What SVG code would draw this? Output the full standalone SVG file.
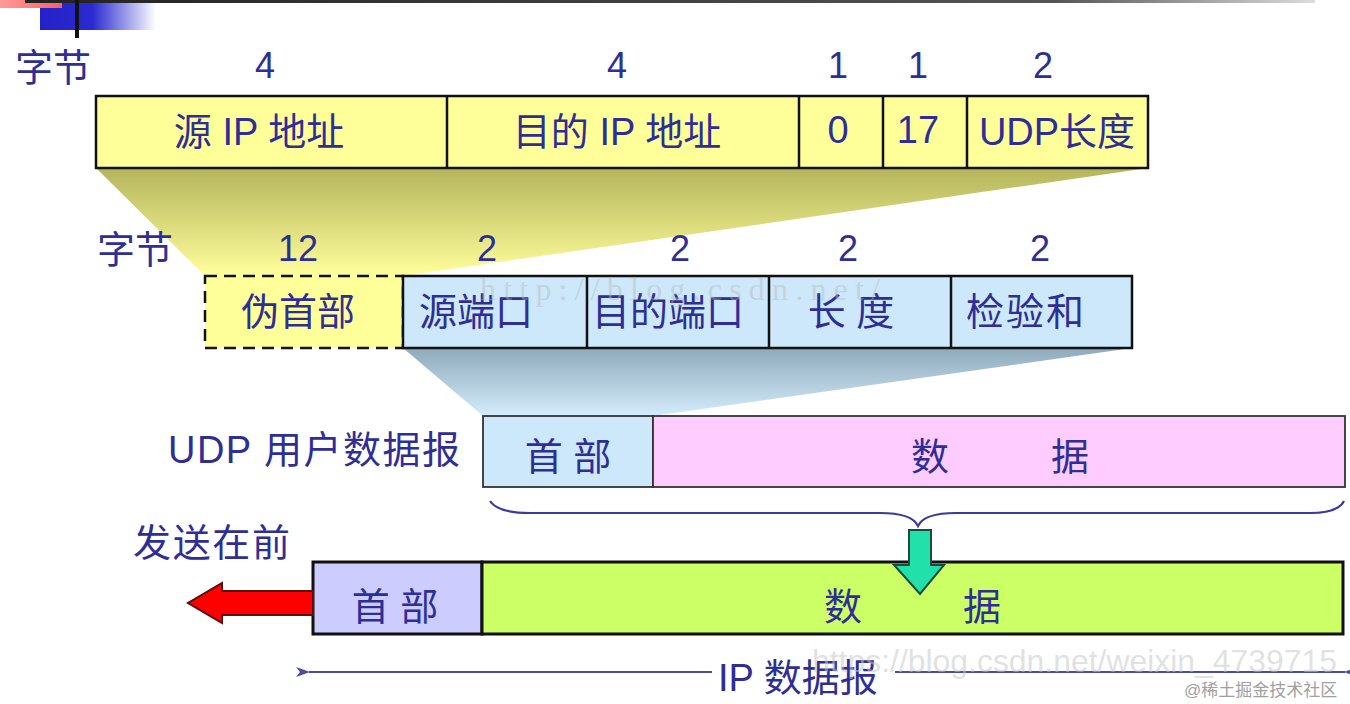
<svg xmlns="http://www.w3.org/2000/svg" width="1350" height="704" viewBox="0 0 1350 704">
<defs>
<style>
text{font-family:"Liberation Sans","Noto Sans CJK SC",sans-serif;fill:#2e2e96;}
.lbl{font-size:38px;}
.num{font-size:36px;text-anchor:middle;}
.box{font-size:38px;text-anchor:middle;}
.cell{stroke:#111;stroke-width:2.5;}
</style>
<linearGradient id="gy" x1="0" y1="0" x2="0" y2="1">
<stop offset="0" stop-color="#b4b45c"/>
<stop offset="1" stop-color="#ffff9c"/>
</linearGradient>
<linearGradient id="gb" x1="0" y1="0" x2="0" y2="1">
<stop offset="0" stop-color="#8eaabb"/>
<stop offset="1" stop-color="#d4ecfb"/>
</linearGradient>
<linearGradient id="gblue" x1="0" y1="0" x2="1" y2="0">
<stop offset="0" stop-color="#2222c8"/>
<stop offset="0.45" stop-color="#2a2ad0"/>
<stop offset="1" stop-color="#ffffff"/>
</linearGradient>
<linearGradient id="gpink" x1="0" y1="0" x2="1" y2="0">
<stop offset="0" stop-color="#ff9a9a"/>
<stop offset="1" stop-color="#ff6060"/>
</linearGradient>
<linearGradient id="gtop" x1="0" y1="0" x2="1" y2="0">
<stop offset="0" stop-color="#222"/>
<stop offset="0.8" stop-color="#555"/>
<stop offset="1" stop-color="#ddd"/>
</linearGradient>
<marker id="arrL" viewBox="0 0 14 10" refX="1" refY="5" markerWidth="14" markerHeight="10" markerUnits="userSpaceOnUse" orient="auto-start-reverse">
<path d="M14,0 L0,5 L14,10 L10,5 Z" fill="#4a4a9e"/>
</marker>
</defs>

<g id="decoration">
<rect x="40" y="0" width="116" height="30" fill="url(#gblue)"/>
<rect x="0" y="0" width="62" height="8" fill="url(#gpink)"/>
<rect x="25" y="0" width="1290" height="3" fill="url(#gtop)"/>
<rect x="75" y="0" width="4" height="38" fill="#111"/>
</g>

<g id="shading">
<polygon points="96,168 1148,168 403,276 205,276" fill="url(#gy)"/>
<polygon points="403,348 1132,348 653,416 483,416" fill="url(#gb)"/>
</g>

<g id="labels">
<text class="lbl" x="15" y="81">字节</text>
<text class="num" x="265" y="78">4</text>
<text class="num" x="617" y="78">4</text>
<text class="num" x="838" y="78">1</text>
<text class="num" x="918" y="78">1</text>
<text class="num" x="1043" y="78">2</text>
<text class="lbl" x="97" y="263">字节</text>
<text class="num" x="298" y="261">12</text>
<text class="num" x="487" y="261">2</text>
<text class="num" x="680" y="261">2</text>
<text class="num" x="848" y="261">2</text>
<text class="num" x="1040" y="261">2</text>
<text class="lbl" x="168" y="463" textLength="292" lengthAdjust="spacing">UDP 用户数据报</text>
<text class="lbl" x="133" y="556" textLength="157" lengthAdjust="spacing">发送在前</text>
</g>

<g id="ip-pseudo-header">
<rect class="cell" x="96" y="96" width="1052" height="72" fill="#ffff99"/>
<line class="cell" x1="447" y1="96" x2="447" y2="168"/>
<line class="cell" x1="799" y1="96" x2="799" y2="168"/>
<line class="cell" x1="883" y1="96" x2="883" y2="168"/>
<line class="cell" x1="967" y1="96" x2="967" y2="168"/>
<text class="box" x="259" y="145">源 IP 地址</text>
<text class="box" x="617" y="145">目的 IP 地址</text>
<text class="box" x="838" y="143">0</text>
<text class="box" x="918" y="143">17</text>
<text class="box" x="1057" y="145">UDP长度</text>
</g>

<g id="udp-header">
<rect x="205" y="276" width="198" height="72" fill="#ffff99" stroke="#111" stroke-width="2.5" stroke-dasharray="12,7"/>
<rect class="cell" x="403" y="276" width="729" height="72" fill="#cce8fa"/>
<line class="cell" x1="587" y1="276" x2="587" y2="348"/>
<line class="cell" x1="769" y1="276" x2="769" y2="348"/>
<line class="cell" x1="951" y1="276" x2="951" y2="348"/>
<text class="box" x="298" y="325">伪首部</text>
<text class="box" x="476" y="325">源端口</text>
<text class="box" x="668" y="325">目的端口</text>
<text class="box" x="851" y="325">长 度</text>
<text class="box" x="1026" y="325" letter-spacing="2">检验和</text>
</g>

<g id="udp-datagram">
<rect x="483" y="416" width="170" height="71" fill="#cce8fa" stroke="#333" stroke-width="1.8"/>
<rect x="653" y="416" width="692" height="71" fill="#ffccff" stroke="#333" stroke-width="1.8"/>
<text class="box" x="568" y="470">首 部</text>
<text class="box" x="930" y="470">数</text>
<text class="box" x="1070" y="470">据</text>
</g>

<g id="ip-datagram">
<rect x="313" y="562" width="169" height="72" fill="#ccccff" stroke="#111" stroke-width="3"/>
<rect x="482" y="562" width="861" height="72" fill="#ccff66" stroke="#111" stroke-width="3"/>
<text class="box" x="395" y="620">首 部</text>
<text class="box" x="843" y="620">数</text>
<text class="box" x="982" y="620">据</text>
</g>

<g id="connectors">
<path d="M490,501 Q498,513 530,513 L880,513 Q912,513 918,526 Q924,513 956,513 L1310,513 Q1338,513 1344,501" fill="none" stroke="#3a3a9a" stroke-width="2.2"/>
<polygon points="909,530 931,530 931,565 944,565 920,594 894,565 909,565" fill="#22e0aa" stroke="#1a4a3a" stroke-width="2"/>
<polygon points="313,591 222,591 222,583 188,603 222,623 222,615 313,615" fill="#ff0000" stroke="#5a1010" stroke-width="2"/>
<line x1="309" y1="672" x2="712" y2="672" stroke="#4a4a9e" stroke-width="2" marker-start="url(#arrL)"/>
<line x1="895" y1="672" x2="1345" y2="672" stroke="#4a4a9e" stroke-width="2" marker-end="url(#arrL)"/>
<text x="718" y="691" style="font-size:38px">IP 数据报</text>
</g>

<g id="watermarks">
<text x="480" y="300" textLength="400" lengthAdjust="spacing" style="font-family:'Liberation Serif',serif;font-size:32px;fill:#b8b8b8;fill-opacity:0.45">http://blog.csdn.net/</text>
<text x="812" y="672" textLength="525" lengthAdjust="spacingAndGlyphs" style="font-size:32px;fill:#c8c8c8;fill-opacity:0.55">https://blog.csdn.net/weixin_4739715</text>
<text x="1184" y="696" style="font-size:17px;fill:#a0a0a0">@稀土掘金技术社区</text>
</g>
</svg>
